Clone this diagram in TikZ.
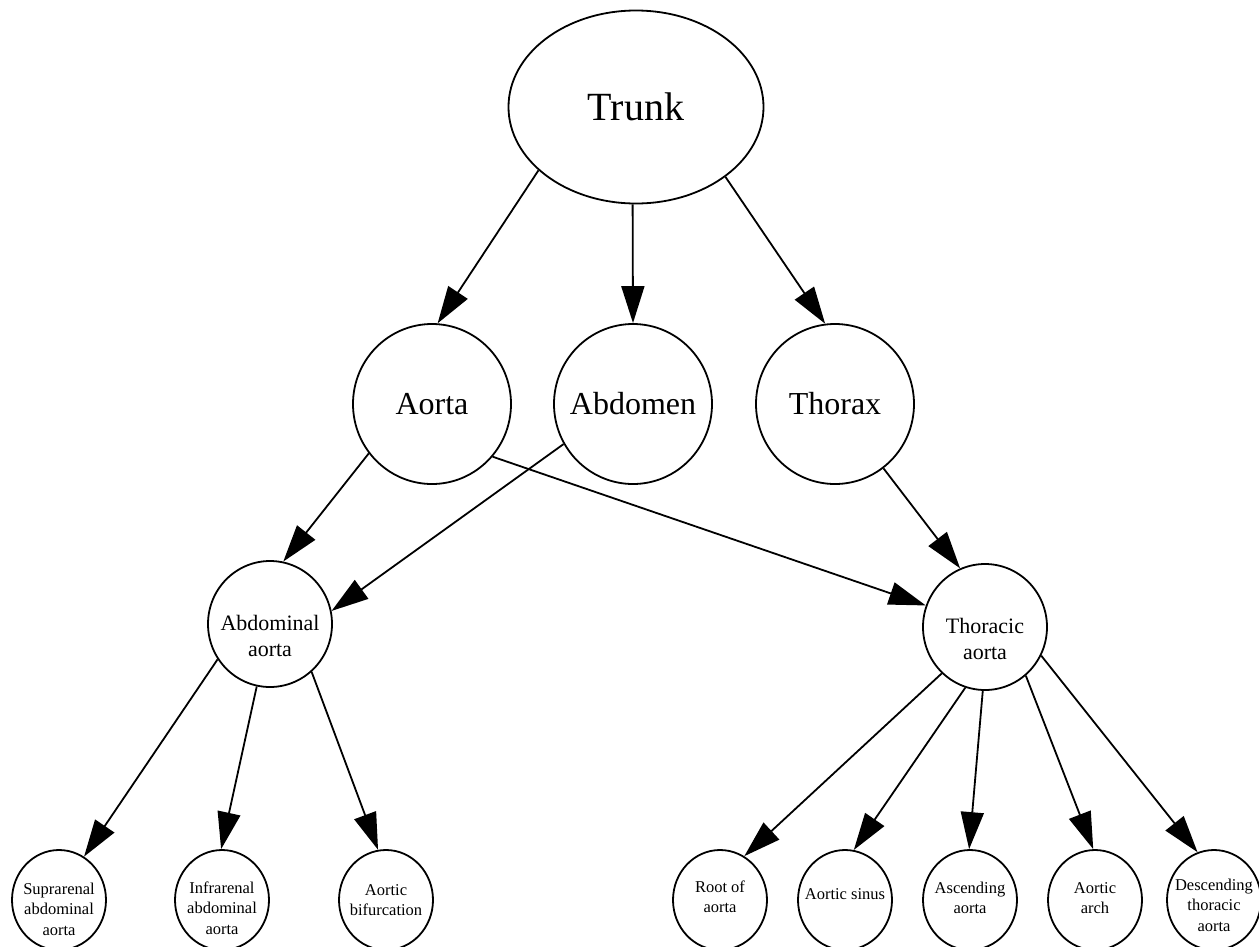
\documentclass[tikz,border=0pt]{standalone}
\usepackage{fontspec}
\setmainfont{Liberation Serif}
\usetikzlibrary{shapes.geometric,arrows.meta}
\begin{document}
\begin{tikzpicture}[x=1pt,y=-1pt,
  nd/.style={ellipse, draw, line width=1.8pt, inner sep=0pt},
  bignd/.style={nd, minimum width=158pt, minimum height=160pt},
  midnd/.style={nd, minimum width=124pt, minimum height=126pt},
  smlnd/.style={nd, minimum width=94pt, minimum height=100pt},
  bigtxt/.style={align=center, inner sep=0pt, font=\fontsize{32}{38}\selectfont},
  midtxt/.style={align=center, inner sep=0pt, font=\fontsize{22}{26}\selectfont, yshift=-12pt},
  smltxt/.style={align=center, inner sep=0pt, font=\fontsize{16.5}{20.5}\selectfont},
  conn/.style={line width=1.8pt, -{Triangle[length=37pt,width=23pt]}},
]
\useasboundingbox (0,0) rectangle (1259,946);

% top
\node[nd, minimum width=255pt, minimum height=193pt,
      label={[align=center,inner sep=0pt,font=\fontsize{40}{48}\selectfont]center:Trunk}] (trunk) at (636,107) {};

% second rank
\node[bignd, label={[bigtxt]center:Aorta}] (aorta) at (432,404) {};
\node[bignd, label={[bigtxt]center:Abdomen}] (abdomen) at (633,404) {};
\node[bignd, label={[bigtxt]center:Thorax}] (thorax) at (835,404) {};

% third rank
\node[midnd, label={[midtxt]center:Abdominal\\aorta}] (abdaorta) at (270,624) {};
\node[midnd, label={[midtxt]center:Thoracic\\aorta}] (thoraorta) at (985,627) {};

% bottom rank
\node[smlnd, label={[smltxt,yshift=-9pt]center:Suprarenal\\abdominal\\aorta}] (supra) at (59,900) {};
\node[smlnd, label={[smltxt,yshift=-8pt]center:Infrarenal\\abdominal\\aorta}] (infra) at (222,900) {};
\node[smlnd, label={[smltxt,yshift=0pt]center:Aortic\\bifurcation}] (bifur) at (386,900) {};
\node[smlnd, label={[smltxt,yshift=3pt]center:Root of\\aorta}] (root) at (720,900) {};
\node[smlnd, label={[smltxt,yshift=6pt]center:Aortic sinus}] (sinus) at (845,900) {};
\node[smlnd, label={[smltxt,yshift=2pt]center:Ascending\\aorta}] (ascend) at (970,900) {};
\node[smlnd, label={[smltxt,yshift=2pt]center:Aortic\\arch}] (arch) at (1095,900) {};
\node[smlnd, label={[smltxt,yshift=-5pt]center:Descending\\thoracic\\aorta}] (descend) at (1214,900) {};

% connectors
\draw[conn] (trunk.213.8) -- (aorta.86.7);
\draw[conn] (trunk.268.5) -- (abdomen.90);
\draw[conn] (trunk.322) -- (thorax.97);

\draw[conn] (aorta.218.6) -- (abdaorta.78);
\draw[conn] (aorta.319) -- (thoraorta.160);
\draw[conn] (abdomen.210.7) -- (abdaorta.12);
\draw[conn] (thorax.307.7) -- (thoraorta.113);

\draw[conn] (abdaorta.214) -- (supra.60);
\draw[conn] (abdaorta.258) -- (infra.91);
\draw[conn] (abdaorta.311) -- (bifur.99.5);

\draw[conn] (thoraorta.227) -- (root.61);
\draw[conn] (thoraorta.252) -- (sinus.80);
\draw[conn] (thoraorta.268) -- (ascend.91);
\draw[conn] (thoraorta.310) -- (arch.92);
\draw[conn] (thoraorta.333) -- (descend.109);
\end{tikzpicture}
\end{document}
